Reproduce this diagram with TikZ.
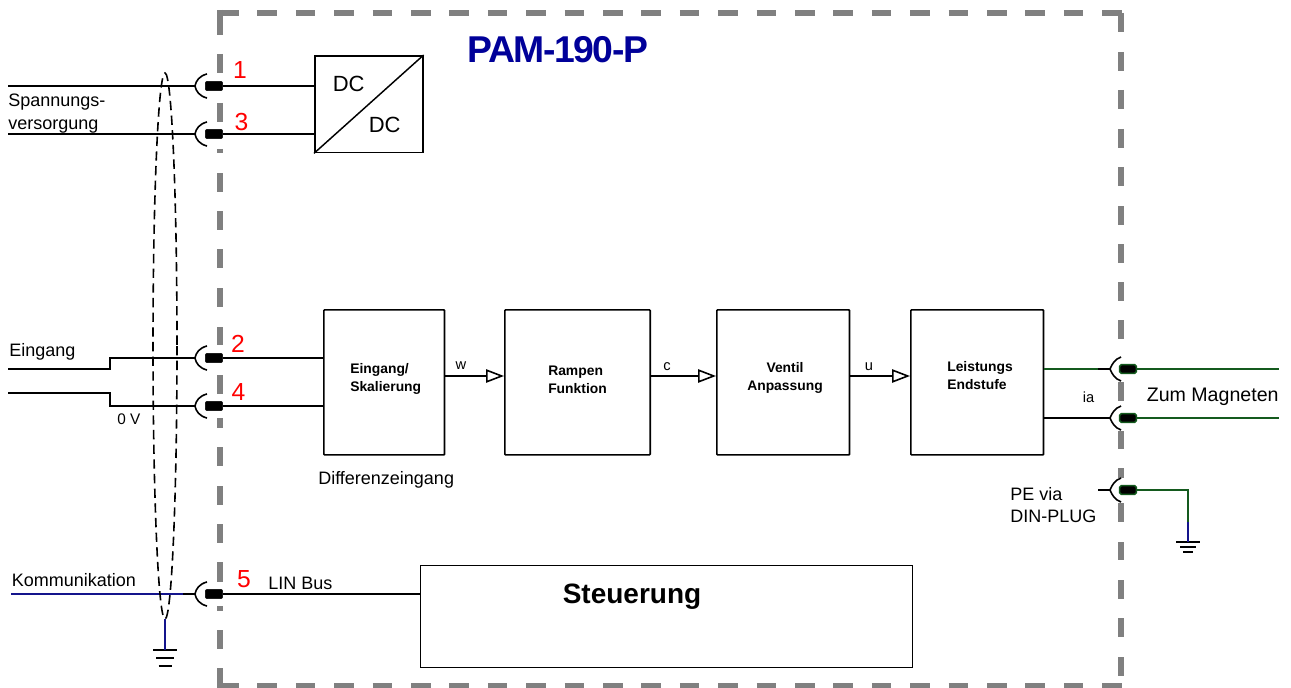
\documentclass[tikz,border=0pt]{standalone}
\usepackage{fontspec}
\setmainfont{Liberation Sans}
\usetikzlibrary{arrows.meta,calc}
\definecolor{frameg}{RGB}{128,128,128}
\definecolor{wgreen}{RGB}{20,90,30}
\definecolor{wblue}{RGB}{20,20,140}
\definecolor{titleb}{RGB}{0,0,153}
\tikzset{
  x=0.75pt,y=-0.75pt,
  wire/.style={line width=1.25pt,draw=black},
  gwire/.style={line width=1.25pt,draw=wgreen},
  bwire/.style={line width=1.25pt,draw=wblue},
  framedash/.style={draw=frameg,line width=4.5pt},
  blockbox/.style={draw=black,line width=1.25pt,inner sep=0pt,rounded corners=0.6pt,minimum height=108.8pt},
  blocktxt/.style={inner sep=0pt,font=\bfseries\fontsize{10.4}{13.5}\selectfont},
  thinbox/.style={draw=black,line width=0.6pt,inner sep=0pt},
  lbl/.style={inner sep=0pt,anchor=base west,font=\fontsize{13.5}{16.5}\selectfont},
  smalllbl/.style={inner sep=0pt,anchor=base,font=\fontsize{11}{13}\selectfont},
  dclbl/.style={inner sep=0pt,anchor=base west,font=\fontsize{16.5}{18}\selectfont},
  pinno/.style={inner sep=0pt,anchor=base,text=red,font=\fontsize{18.5}{20}\selectfont},
  plug/.style={draw=black,fill=black,rounded corners=1.5pt,minimum width=13pt,minimum height=7pt,inner sep=0pt,line width=0.4pt},
  gplug/.style={draw=wgreen,fill=black,rounded corners=1.2pt,minimum width=12.5pt,minimum height=6.5pt,inner sep=0pt,line width=1.2pt},
  cup/.style={line width=1.2pt,draw=black},
  flow/.style={wire,-{Triangle[open,fill=white,length=13.5pt,width=10pt,line width=1.2pt]}},
}
\newcommand{\lconn}[2]{%
  \node[plug] (p#1) at (214,#2) {};
  \coordinate (c#1) at (195,#2);
  \draw[cup] (207,#2-12) .. controls (199,#2-10) and (196,#2-5) .. (c#1) .. controls (196,#2+5) and (199,#2+10) .. (207,#2+12);
}
\newcommand{\rconn}[2]{%
  \node[gplug] (p#1) at (1128,#2) {};
  \coordinate (c#1) at (1110,#2);
  \draw[cup] (1121,#2-12) .. controls (1115,#2-10) and (1112,#2-5) .. (c#1) .. controls (1112,#2+5) and (1115,#2+10) .. (1121,#2+12);
  \coordinate (s#1) at (1098,#2);
  \draw[wire] (s#1) -- (c#1);
}
% name, x, y, half widths (3), spacing
\newcommand{\gnd}[7]{%
  \coordinate (#1) at (#2,#3);
  \draw[line width=1.2pt] (#2-#4,#3) -- (#2+#4,#3);
  \draw[line width=1.2pt] (#2-#5,#3+#7) -- (#2+#5,#3+#7);
  \draw[line width=1.2pt] (#2-#6,#3+#7+#7) -- (#2+#6,#3+#7+#7);
}
\begin{document}
\begin{tikzpicture}
\useasboundingbox (0,0) rectangle (1291,688);
% frame
\foreach \k in {0,...,23} {
  \draw[framedash] ({219+38.4*\k},13) -- ({238.5+38.4*\k},13);
  \draw[framedash] ({219+38.4*\k},685.5) -- ({238.5+38.4*\k},685.5);
}
\foreach \a/\b in {10/35,54/73,103/122,149/153,173/192,211/230,249/268,288/307,327/345,375/394,418/428,447/466,486/505,524/543,562/582,606/611,630/649,668/688}
  \draw[framedash] (219.5,\a) -- (219.5,\b);
\foreach \a/\b in {13/32,52/71,90/109,129/148,167/186,206/225,244/263,282/301,320/339,382/401,431/449,468/478,503/522,542/560,580/599,618/637,657/676}
  \draw[framedash] (1121,\a) -- (1121,\b);
% title
\node[inner sep=0pt,text=titleb,font=\bfseries\fontsize{28}{30}\selectfont\addfontfeatures{LetterSpace=-4},anchor=base west] (title) at (467.5,63) {PAM-190-P};
% left connectors
\lconn{1}{86}
\lconn{3}{134}
\lconn{2}{358}
\lconn{4}{406}
\lconn{5}{594}
% right connectors
\rconn{a}{369}
\rconn{b}{418}
\rconn{c}{490}
% blocks
\node[thinbox,line width=1.25pt,minimum width=81pt,minimum height=72.5pt,anchor=north west] (dc) at (314,55) {};
\draw[line width=1.1pt] (dc.south west) -- (dc.north east);
\node[dclbl] (dc1) at (332.5,92) {DC};
\node[dclbl] (dc2) at (368.5,133) {DC};
\node[blockbox,minimum width=90.5pt,anchor=north west] (ein) at (323,309) {};
\node[blocktxt,align=left,anchor=west] (eintxt) at (350,379) {Eingang/\\Skalierung};
\node[blockbox,minimum width=109pt,anchor=north west] (ram) at (504,309) {};
\node[blocktxt,align=left,anchor=west] (ramtxt) at (548,380) {Rampen\\Funktion};
\node[blockbox,minimum width=99.5pt,anchor=north west] (ven) at (716,309) {};
\node[blocktxt,align=center,anchor=west] (ventxt) at (747,378) {Ventil\\Anpassung};
\node[blockbox,minimum width=99.5pt,anchor=north west] (end) at (910,309) {};
\node[blocktxt,align=left,anchor=west] (endtxt) at (947,375.5) {Leistungs\\Endstufe};
\node[thinbox,minimum width=369pt,minimum height=76.5pt,anchor=north west] (st) at (420,565) {};
\node[inner sep=0pt,font=\bfseries\fontsize{21}{24}\selectfont] (sttxt) at (632,597) {Steuerung};
% left wires
\coordinate (w1) at (8,86);
\coordinate (w3) at (8,134);
\draw[wire] (w1) -- (c1);
\draw[wire] (w3) -- (c3);
\draw[wire] (p1.east) -- (p1.east -| dc.west);
\draw[wire] (p3.east) -- (p3.east -| dc.west);
\coordinate (w2) at (8,369);
\coordinate (w4) at (8,393);
\draw[wire] (w2) -- (110,369) -- (110,358) -- (c2);
\draw[wire] (w4) -- (110,393) -- (110,406) -- (c4);
\draw[wire] (p2.east) -- (p2.east -| ein.west);
\draw[wire] (p4.east) -- (p4.east -| ein.west);
\coordinate (w5) at (11,594);
\coordinate (w5b) at (183,594);
\draw[bwire] (w5) -- (w5b);
\draw[wire] (w5b) -- (c5);
\draw[wire] (p5.east) -- (p5.east -| st.west);
% flow
\coordinate (f1) at (ein.east |- 0,376);
\coordinate (f2) at (ram.east |- 0,376);
\coordinate (f3) at (ven.east |- 0,376);
\draw[flow] (f1) -- (f1 -| ram.west);
\draw[flow] (f2) -- (f2 -| ven.west);
\draw[flow] (f3) -- (f3 -| end.west);
\node[smalllbl] (lw) at (461,369) {w};
\node[smalllbl] (lc) at (667,370) {c};
\node[smalllbl] (lu) at (869,370) {u};
% shield
\coordinate (shbot) at (165,619);
\draw[line width=1.2pt,dash pattern=on 7pt off 4pt] (165,346) ellipse [x radius=12,y radius=273];
\gnd{ga}{165}{650}{12}{9}{6.5}{8}
\draw[bwire] (shbot) -- (ga);
% right wires
\coordinate (ra) at (1279,369);
\coordinate (rb) at (1279,418);
\draw[gwire] (sa -| end.east) -- (sa);
\draw[wire] (sb -| end.east) -- (sb);
\draw[gwire] (pa.east) -- (ra);
\draw[gwire] (pb.east) -- (rb);
\coordinate (pe) at (1188,490);
\coordinate (pf) at (1188,522);
\gnd{gb}{1188}{542}{12}{8}{5}{5}
\draw[gwire] (pc.east) -- (pe) -- (pf);
\draw[bwire] (pf) -- (gb);
% labels
\node[lbl] (t1) at (8,107) {Spannungs-};
\node[lbl] (t2) at (8,130) {versorgung};
\node[lbl] (t3) at (9,356) {Eingang};
\node[smalllbl,anchor=base west,font=\fontsize{11.5}{13}\selectfont] (t4) at (117,424) {0 V};
\node[lbl] (t5) at (11.5,586) {Kommunikation};
\node[lbl] (t6) at (268,589) {LIN Bus};
\node[lbl] (t7) at (318,484) {Differenzeingang};
\node[lbl,font=\fontsize{14.7}{16}\selectfont] (t8) at (1146.5,401) {Zum Magneten};
\node[smalllbl,anchor=base west] (t9) at (1082.5,402) {ia};
\node[lbl] (t10) at (1010,500) {PE via};
\node[lbl] (t11) at (1010,522) {DIN-PLUG};
\node[pinno] (n1) at (240,79) {1};
\node[pinno] (n3) at (241.5,131) {3};
\node[pinno] (n2) at (238,352) {2};
\node[pinno] (n4) at (238.5,400) {4};
\node[pinno] (n5) at (244,587) {5};
\end{tikzpicture}
\end{document}
